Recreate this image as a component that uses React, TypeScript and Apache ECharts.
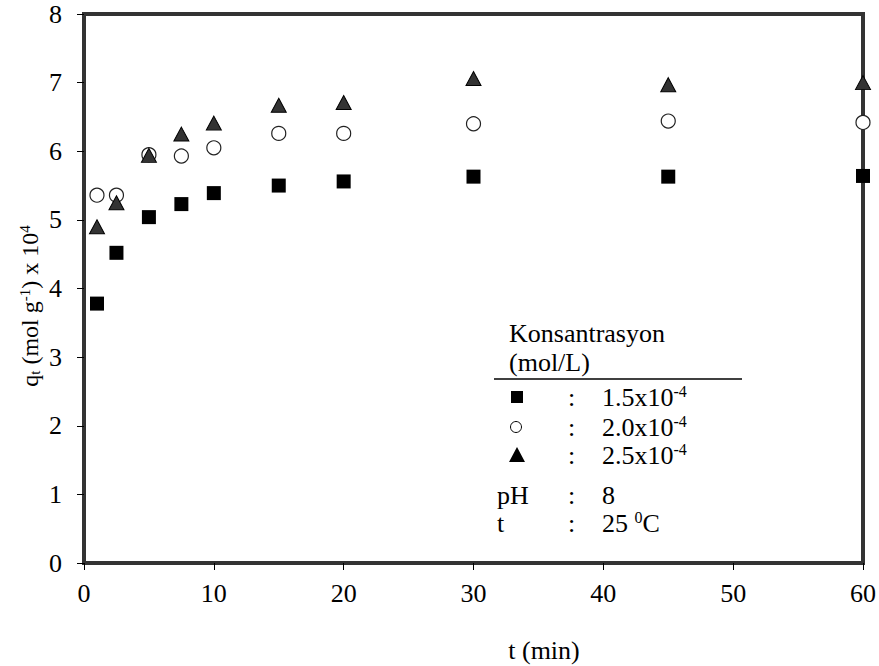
import React, { useEffect, useRef } from "react";
import * as echarts from "echarts";

const times = [1, 2.5, 5, 7.5, 10, 15, 20, 30, 45, 60];
const conc15 = [3.78, 4.52, 5.04, 5.23, 5.39, 5.5, 5.56, 5.63, 5.63, 5.64];
const conc20 = [5.36, 5.36, 5.95, 5.93, 6.05, 6.26, 6.26, 6.4, 6.44, 6.42];
const conc25 = [4.9, 5.25, 5.94, 6.25, 6.41, 6.67, 6.71, 7.06, 6.97, 7.0];
const legendValues = ["1.5x10", "2.0x10", "2.5x10"];
const legendTitle = ["Konsantrasyon", "(mol/L)"];

const FONT = "'Liberation Serif', 'Times New Roman', serif";
const FS = 26;

export default function App() {
  const ref = useRef<HTMLDivElement>(null);
  useEffect(() => {
    if (!ref.current) return;
    const chart = echarts.init(ref.current, null, { renderer: "svg" });
    const pair = (vals: number[]) => times.map((t, i) => [t, vals[i]]);
    const rich = {
      sup: { fontSize: 16, fontFamily: FONT, color: "#000", verticalAlign: "top", padding: [0, 0, 12, 0] },
      sub: { fontSize: 16, fontFamily: FONT, color: "#000", padding: [10, 0, 0, 0] },
      n: { fontSize: FS, fontFamily: FONT, color: "#000" },
      m: { fontSize: 24, fontFamily: FONT, color: "#000" },
      s2: { fontSize: 15, fontFamily: FONT, color: "#000", verticalAlign: "top", padding: [0, 0, 11, 0] },
      b2: { fontSize: 15, fontFamily: FONT, color: "#000", padding: [9, 0, 0, 0] },
    };
    const txt = (x: number, y: number, s: string, align = "left") => ({
      type: "text",
      x,
      y,
      style: { text: s, fontSize: FS, fontFamily: FONT, fill: "#000", align, verticalAlign: "middle", rich },
    });
    const rows = [397, 427, 455];
    const graphics: any[] = [
      txt(509, 333, legendTitle[0]),
      txt(509, 362, legendTitle[1]),
      { type: "line", shape: { x1: 494, y1: 379, x2: 742, y2: 379 }, style: { stroke: "#000", lineWidth: 1.5 } },
      { type: "rect", shape: { x: 511, y: rows[0] - 6, width: 12, height: 12 }, style: { fill: "#000" } },
      { type: "circle", shape: { cx: 516, cy: rows[1], r: 5.5 }, style: { fill: "#fff", stroke: "#000", lineWidth: 1 } },
      {
        type: "polygon",
        shape: { points: [[517, rows[2] - 8], [509, rows[2] + 7], [525, rows[2] + 7]] },
        style: { fill: "#000" },
      },
    ];
    rows.forEach((y, i) => {
      graphics.push(txt(568, y, ":"));
      graphics.push({
        type: "text",
        x: 602,
        y,
        style: { text: `{n|${legendValues[i]}}{sup|-4}`, fill: "#000", verticalAlign: "middle", rich },
      });
    });
    graphics.push(txt(497, 495, "pH"));
    graphics.push(txt(568, 495, ":"));
    graphics.push(txt(602, 495, "8"));
    graphics.push(txt(497, 523, "t"));
    graphics.push(txt(568, 523, ":"));
    graphics.push({
      type: "text",
      x: 602,
      y: 523,
      style: { text: "{n|25 }{sup|0}{n|C}", fill: "#000", verticalAlign: "middle", rich },
    });
    graphics.push({
      type: "text",
      x: 544,
      y: 650,
      style: { text: "t (min)", fontSize: FS, fontFamily: FONT, fill: "#000", align: "center", verticalAlign: "middle" },
    });
    graphics.push({
      type: "text",
      x: 30,
      y: 306,
      rotation: Math.PI / 2,
      style: {
        text: "{m|q}{b2|t}{m| (mol g}{s2|-1}{m|) x 10}{s2|4}",
        fill: "#000",
        align: "center",
        verticalAlign: "middle",
        rich,
      },
    });

    chart.setOption({
      animation: false,
      backgroundColor: "#fff",
      grid: {
        left: 84,
        right: 15,
        top: 14,
        bottom: 103,
        show: true,
        borderColor: "#333",
        borderWidth: 4,
        backgroundColor: "transparent",
      },
      xAxis: {
        type: "value",
        min: 0,
        max: 60,
        interval: 10,
        axisLine: { show: false },
        axisTick: { show: true, length: 7, lineStyle: { color: "#000", width: 1 } },
        splitLine: { show: false },
        axisLabel: { fontFamily: FONT, fontSize: FS, color: "#000", margin: 17 },
      },
      yAxis: {
        type: "value",
        min: 0,
        max: 8,
        interval: 1,
        axisLine: { show: false },
        axisTick: { show: true, length: 7, lineStyle: { color: "#000", width: 1 } },
        splitLine: { show: false },
        axisLabel: { fontFamily: FONT, fontSize: FS, color: "#000", margin: 22 },
      },
      series: [
        {
          name: "2.0x10-4",
          type: "scatter",
          data: pair(conc20),
          symbol: "circle",
          symbolSize: 14,
          itemStyle: { color: "#fff", borderColor: "#222", borderWidth: 1.2, opacity: 1 },
        },
        {
          name: "1.5x10-4",
          type: "scatter",
          data: pair(conc15),
          symbol: "rect",
          symbolSize: 14,
          itemStyle: { color: "#000", opacity: 1 },
        },
        {
          name: "2.5x10-4",
          type: "scatter",
          data: pair(conc25),
          symbol: "triangle",
          symbolSize: [15, 14],
          itemStyle: { color: "#333", borderColor: "#000", borderWidth: 1, opacity: 1 },
        },
      ],
      graphic: graphics,
    });
    return () => chart.dispose();
  }, []);
  return <div ref={ref} style={{ position: "fixed", left: 0, top: 0, width: 879, height: 666 }} />;
}
